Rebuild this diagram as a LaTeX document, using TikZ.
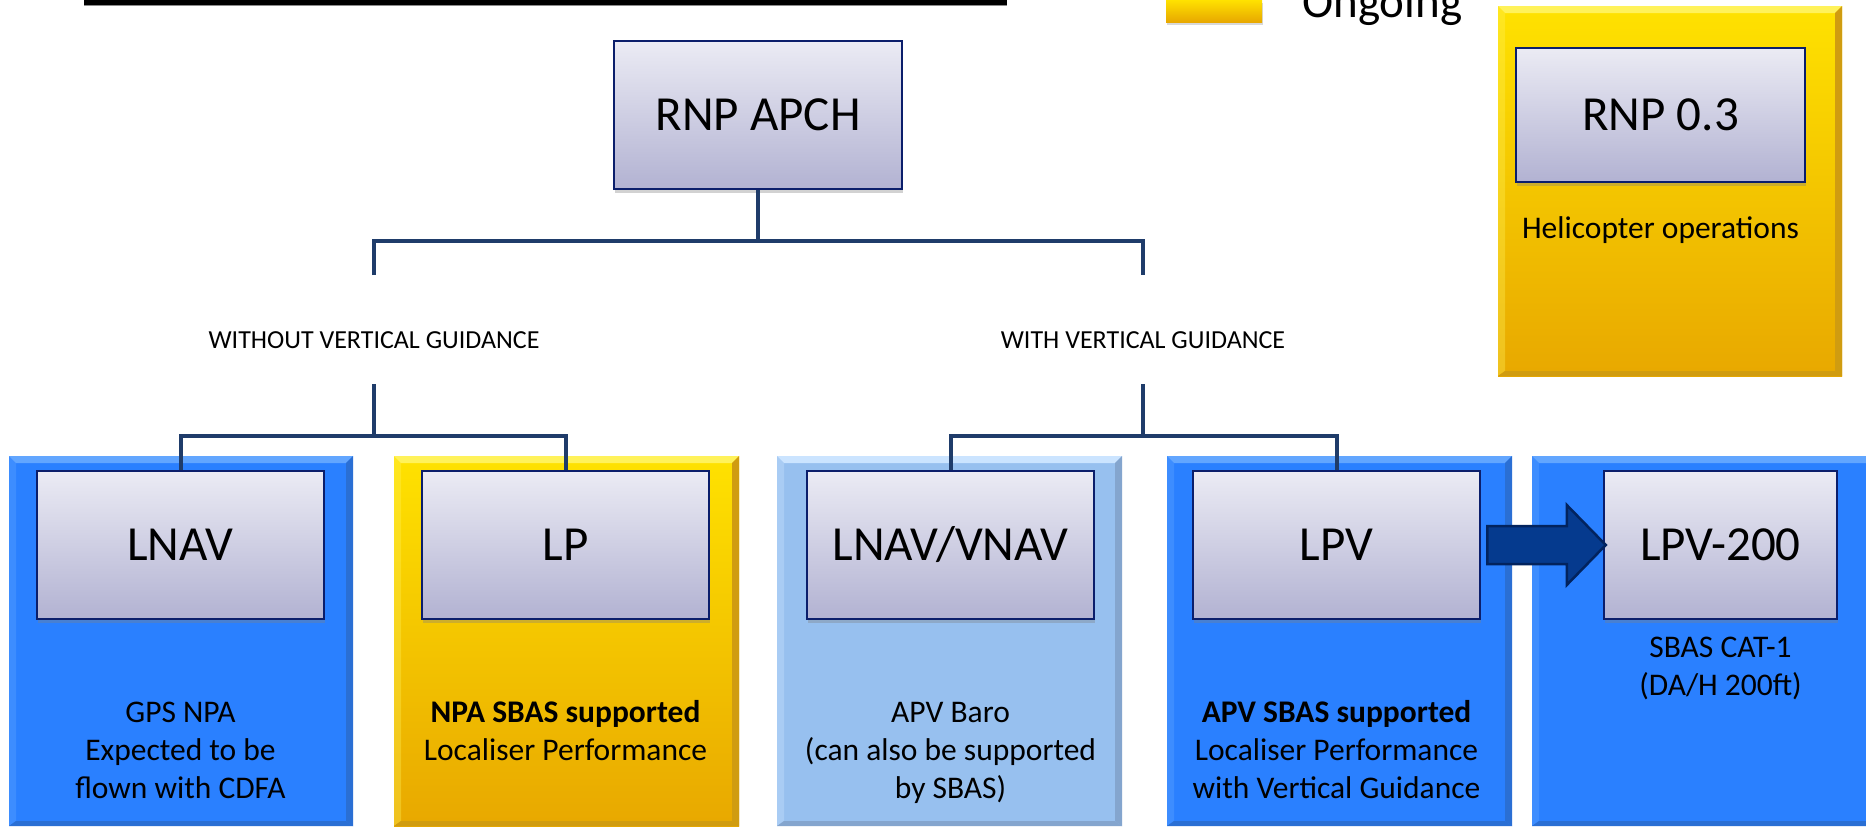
\documentclass[tikz,border=0pt]{standalone}
\usepackage{fontspec}
\setmainfont{Carlito}
\usetikzlibrary{shadows,calc}
\definecolor{navy}{HTML}{0B1E6B}
\definecolor{lavtop}{HTML}{EBEBF4}
\definecolor{lavbot}{HTML}{B2B2D2}
\definecolor{connc}{HTML}{1F3C6A}
\definecolor{pblue}{HTML}{2A80FF}
\definecolor{pbluelt}{HTML}{62A6FF}
\definecolor{pbluedk}{HTML}{2A6FD4}
\definecolor{plight}{HTML}{97C0EF}
\definecolor{plightlt}{HTML}{CBE4FF}
\definecolor{plightdk}{HTML}{84A5CE}
\definecolor{yeltop}{HTML}{FFE200}
\definecolor{yelbot}{HTML}{E8A800}
\definecolor{yellt}{HTML}{FFF25A}
\definecolor{yeldk}{HTML}{D09C10}
\definecolor{arrowfill}{HTML}{053A8E}
\definecolor{arrowdraw}{HTML}{02235E}

\newcommand{\panelbox}[7]{%
  \fill[#5] (#1,#2) rectangle (#3,#4);
  \fill[#6] (#1,#2) -- (#3,#2) -- (#3-7,#2+7) -- (#1+7,#2+7) -- cycle;
  \fill[#6,opacity=.35] (#1,#2) -- (#1+7,#2+7) -- (#1+7,#4-5) -- (#1,#4) -- cycle;
  \fill[#7] (#3,#2) -- (#3,#4) -- (#3-7,#4-5) -- (#3-7,#2+7) -- cycle;
  \fill[#7] (#1,#4) -- (#3,#4) -- (#3-7,#4-5) -- (#1+7,#4-5) -- cycle;
}

\begin{document}
\begin{tikzpicture}[x=1pt,y=-1pt,
  inbox/.style={draw=navy, line width=2.5pt, top color=lavtop, bottom color=lavbot,
    minimum width=287pt, minimum height=148pt, inner sep=0pt,
    font=\fontsize{49}{58}\selectfont,
    drop shadow={shadow xshift=1pt, shadow yshift=-4pt, opacity=.35}},
  body/.style={anchor=base, align=center, inner sep=0pt, font=\fontsize{31.5}{38}\selectfont},
  glabel/.style={inner sep=0pt, font=\fontsize{26}{30}\selectfont},
  conn/.style={draw=connc, line width=4pt},
  bigarrow/.style={fill=arrowfill, draw=arrowdraw, line width=2.5pt, line join=miter}]

\useasboundingbox (0,0) rectangle (1866,827);
\fill[white] (0,0) rectangle (1866,827);

% top bar
\fill[black] (84,0) rectangle (1007,4.5);
\fill[black!45] (84,4.5) rectangle (1007,5.5);

% legend
\fill[top color=yeltop, bottom color=yelbot, drop shadow={shadow xshift=1pt, shadow yshift=-3pt, opacity=.3}] (1166,0) rectangle (1262,22);
\node[anchor=base west, inner sep=0pt, font=\fontsize{47}{56}\selectfont] (ongoing) at (1302,17) {Ongoing};

% panels
\panelbox{1498}{6}{1842}{376}{top color=yeltop,bottom color=yelbot}{yellt}{yeldk}
\panelbox{9}{456}{353}{826}{pblue}{pbluelt}{pbluedk}
\panelbox{394}{456}{739}{826}{top color=yeltop,bottom color=yelbot}{yellt}{yeldk}
\panelbox{777}{456}{1122}{826}{plight}{plightlt}{plightdk}
\panelbox{1167}{456}{1512}{826}{pblue}{pbluelt}{pbluedk}
\panelbox{1532}{456}{1874}{826}{pblue}{pbluelt}{pbluedk}

% inner boxes
\node[inbox, minimum width=288pt] (apch) at (758,115) {RNP APCH};
\node[inbox, minimum width=289pt, minimum height=134pt] (rnp) at (1660.5,115) {RNP 0.3};
\node[inbox] (lnav) at (180.5,545) {LNAV};
\node[inbox] (lp) at (565.5,545) {LP};
\node[inbox] (lnvn) at (950.5,545) {LNAV/VNAV};
\node[inbox] (lpv) at (1336.5,545) {LPV};
\node[inbox, minimum width=233pt] (lpvt) at (1720.5,545) {LPV-200};

% group labels
\node[glabel] (wo) at (374,340) {WITHOUT VERTICAL GUIDANCE};
\node[glabel] (wi) at (1143,340) {WITH VERTICAL GUIDANCE};

% connectors
\coordinate (hub) at (758,241);
\coordinate (woT) at (374,275);
\coordinate (wiT) at (1143,275);
\coordinate (woB) at (374,384);
\coordinate (wiB) at (1143,384);
\draw[conn] (apch.south) -- (hub);
\draw[conn] (woT) -- (woT |- hub) -- (wiT |- hub) -- (wiT);
\draw[conn] (woB) -- ++(0,52) coordinate (woH);
\draw[conn] (lnav.north) -- (lnav.north |- woH) -- (lp.north |- woH) -- (lp.north);
\draw[conn] (wiB) -- ++(0,52) coordinate (wiH);
\draw[conn] (lnvn.north) -- (lnvn.north |- wiH) -- (lpv.north |- wiH) -- (lpv.north);

% block arrow
\draw[bigarrow] ($(lpv.east)+(6,-19)$) -- ($(lpvt.west)+(-36,-19)$) -- ($(lpvt.west)+(-36,-40)$)
  -- ($(lpvt.west)+(3,0)$) -- ($(lpvt.west)+(-36,40)$) -- ($(lpvt.west)+(-36,19)$)
  -- ($(lpv.east)+(6,19)$) -- cycle;

% body texts (anchor base = last line's baseline)
\node[body] (t1) at (180.5,798) {GPS NPA\\Expected to be\\flown with CDFA};
\node[body] (t2) at (565.5,760) {\textbf{NPA SBAS supported}\\Localiser Performance};
\node[body] (t3) at (950.5,798) {APV Baro\\(can also be supported\\by SBAS)};
\node[body] (t4) at (1336.5,798) {\textbf{APV SBAS supported}\\Localiser Performance\\with Vertical Guidance};
\node[body] (t5) at (1720.5,695) {SBAS CAT-1\\(DA/H 200ft)};
\node[body] (t6) at (1660.5,238) {Helicopter operations};
\end{tikzpicture}
\end{document}
